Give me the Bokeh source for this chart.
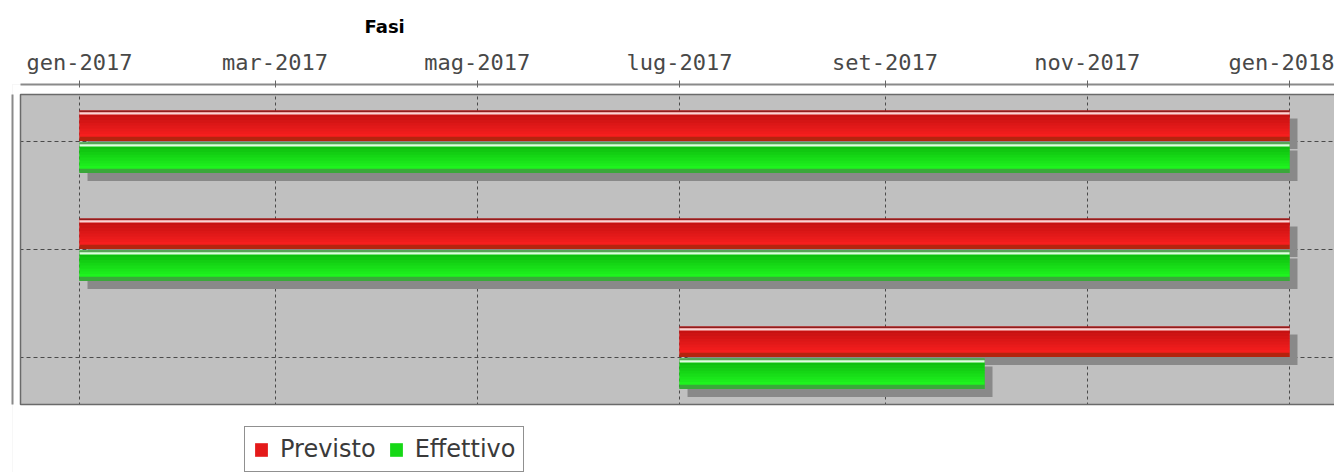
import numpy as np
import pandas as pd
from bokeh.plotting import figure
from bokeh.models import Range1d, FixedTicker, Legend, LegendItem
from bokeh.embed import file_html
from bokeh.resources import INLINE

# ---------------- data ----------------
title_text = "Fasi"
tasks = ["Fase 1", "Fase 2", "Fase 3"]
series_names = ["Previsto", "Effettivo"]
previsto_start = ["2017-01-01", "2017-01-01", "2017-07-01"]
previsto_end = ["2018-01-01", "2018-01-01", "2018-01-01"]
effettivo_start = ["2017-01-01", "2017-01-01", "2017-07-01"]
effettivo_end = ["2018-01-01", "2018-01-01", "2017-10-01"]
tick_dates = ["2017-01-01", "2017-03-01", "2017-05-01", "2017-07-01",
              "2017-09-01", "2017-11-01", "2018-01-01"]
tick_labels = ["gen-2017", "mar-2017", "mag-2017", "lug-2017",
               "set-2017", "nov-2017", "gen-2018"]


def ms(dates):
    d = pd.to_datetime(pd.Series(dates))
    return ((d - pd.Timestamp("1970-01-01")) / pd.Timedelta(milliseconds=1)).to_numpy(dtype=float)


DAY = 86400000.0
PX_DAY = 1210.0 / 365.0          # pixels per day
PX_CAT = 108.0                   # pixels per category
x0 = ms(["2017-01-01"])[0]

x_start = x0 - 67.0 / PX_DAY * DAY
x_end = x0 + 1255.0 / PX_DAY * DAY
x_area = x0 - 59.0 / PX_DAY * DAY
y_bottom = 2 + 115.0 / PX_CAT
y_top = -57.0 / PX_CAT
y_area_top = -47.0 / PX_CAT
y_area_bot = 2 + 47.0 / PX_CAT

p = figure(width=1334, height=472, output_backend="svg", toolbar_location=None,
           x_range=Range1d(x_start, x_end), y_range=Range1d(y_bottom, y_top),
           x_axis_location="above", min_border_left=12, min_border_right=0,
           min_border_top=84, min_border_bottom=0)
p.background_fill_color = "#c0c0c0"
p.border_fill_color = "white"
p.outline_line_color = None

# title
p.title.text = title_text
p.title.align = "left"
p.title.offset = 352
p.title.text_font = "DejaVu Sans"
p.title.text_font_style = "bold"
p.title.text_font_size = "18px"
p.title.text_color = "black"
p.title.standoff = 19

# x axis (top)
ticks = ms(tick_dates)
xt = FixedTicker(ticks=list(ticks))
ax = p.xaxis[0]
ax.ticker = xt
ax.major_label_overrides = {float(t): l for t, l in zip(ticks, tick_labels)}
ax.major_label_text_font = "DejaVu Sans Mono"
ax.major_label_text_font_size = "22px"
ax.major_label_text_color = "#484848"
ax.major_label_standoff = 6
ax.axis_line_color = "#8a8a8a"
ax.axis_line_width = 2
ax.major_tick_line_color = "#666666"
ax.major_tick_in = 3
ax.major_tick_out = 4
ax.minor_tick_line_color = None
ax.bounds = (x_area, x_end)
p.xgrid.ticker = xt
p.xgrid.grid_line_color = "#4a4a4a"
p.xgrid.grid_line_dash = "3 3"
p.xgrid.grid_line_width = 1

# y axis (left, no labels)
ay = p.yaxis[0]
ay.ticker = FixedTicker(ticks=[])
ay.major_tick_out = 0
ay.major_tick_in = 0
ay.major_label_standoff = 0
ay.minor_tick_line_color = None
ay.axis_line_color = "#8a8a8a"
ay.axis_line_width = 2
ay.bounds = (y_area_top, y_area_bot)
p.ygrid.ticker = FixedTicker(ticks=list(range(len(tasks))))
p.ygrid.grid_line_color = "#4a4a4a"
p.ygrid.grid_line_dash = "4 3"
p.ygrid.grid_line_width = 1

# white bands between axes / legend and plot area
p.quad(left=[x_start - 30 * DAY], right=[x_end + 30 * DAY], top=[y_top - 1], bottom=[y_area_top],
       fill_color="white", line_color=None)
p.quad(left=[x_start - 30 * DAY], right=[x_end + 30 * DAY], top=[y_area_bot], bottom=[y_bottom + 1],
       fill_color="white", line_color=None)
p.quad(left=[x_start - 30 * DAY], right=[x_area], top=[y_top - 1], bottom=[y_bottom + 1],
       fill_color="white", line_color=None)
# plot area border
p.quad(left=[x_area], right=[x_end + 30 * DAY], top=[y_area_top], bottom=[y_area_bot],
       fill_color=None, line_color="#6a6a6a", line_width=1.5)

idx = np.arange(len(tasks), dtype=float)
BH = 30.5 / PX_CAT
SDX = 8.0 / PX_DAY * DAY
SDY = 8.0 / PX_CAT

series = [
    dict(name=series_names[0], left=ms(previsto_start), right=ms(previsto_end),
         top=idx - BH - 0.5 / PX_CAT, base="#e41a1a",
         bands=[(0.00, 0.06, "#8e1e1e"), (0.06, 0.13, "#f7d6d6")],
         grad=("#c61212", "#f61e1e"), bottom_band=(0.86, 1.0, "#b4240f")),
    dict(name=series_names[1], left=ms(effettivo_start), right=ms(effettivo_end),
         top=idx + 1.0 / PX_CAT, base="#16d816",
         bands=[(0.00, 0.06, "#5aa05a"), (0.06, 0.13, "#e2fae2")],
         grad=("#0fbf0f", "#1ef41e"), bottom_band=(0.86, 1.0, "#3aa83a")),
]

# shadows first
for s in series:
    p.quad(left=s["left"] + SDX, right=s["right"] + SDX,
           top=s["top"] + SDY, bottom=s["top"] + BH + SDY,
           fill_color="#898989", line_color=None)


def hex2rgb(h):
    return np.array([int(h[i:i + 2], 16) for i in (1, 3, 5)], dtype=float)


def rgb2hex(c):
    return "#%02x%02x%02x" % tuple(int(round(v)) for v in c)


base_renderers = []
for s in series:
    r = p.quad(left=s["left"], right=s["right"], top=s["top"], bottom=s["top"] + BH,
               fill_color=s["base"], line_color=None)
    base_renderers.append(r)
    n = 8
    g0, g1 = hex2rgb(s["grad"][0]), hex2rgb(s["grad"][1])
    f_edges = np.linspace(0.13, 0.86, n + 1)
    for k in range(n):
        col = rgb2hex(g0 + (g1 - g0) * k / (n - 1))
        p.quad(left=s["left"], right=s["right"],
               top=s["top"] + BH * f_edges[k], bottom=s["top"] + BH * f_edges[k + 1] + 0.002,
               fill_color=col, line_color=None)
    for f0, f1, col in s["bands"] + [s["bottom_band"]]:
        p.quad(left=s["left"], right=s["right"],
               top=s["top"] + BH * f0, bottom=s["top"] + BH * f1,
               fill_color=col, line_color=None)

legend = Legend(items=[LegendItem(label=series_names[0], renderers=[base_renderers[0]]),
                       LegendItem(label=series_names[1], renderers=[base_renderers[1]])],
                orientation="horizontal", location=(232, 0),
                label_text_font="DejaVu Sans", label_text_font_size="24px",
                label_text_color="#3a3a3a", glyph_width=16, glyph_height=17,
                label_standoff=11, spacing=12, padding=8, margin=0,
                border_line_color="#222222", border_line_width=1.5,
                background_fill_color="white", background_fill_alpha=1.0)
p.add_layout(legend)

open("out.html", "w").write(file_html(p, INLINE))
